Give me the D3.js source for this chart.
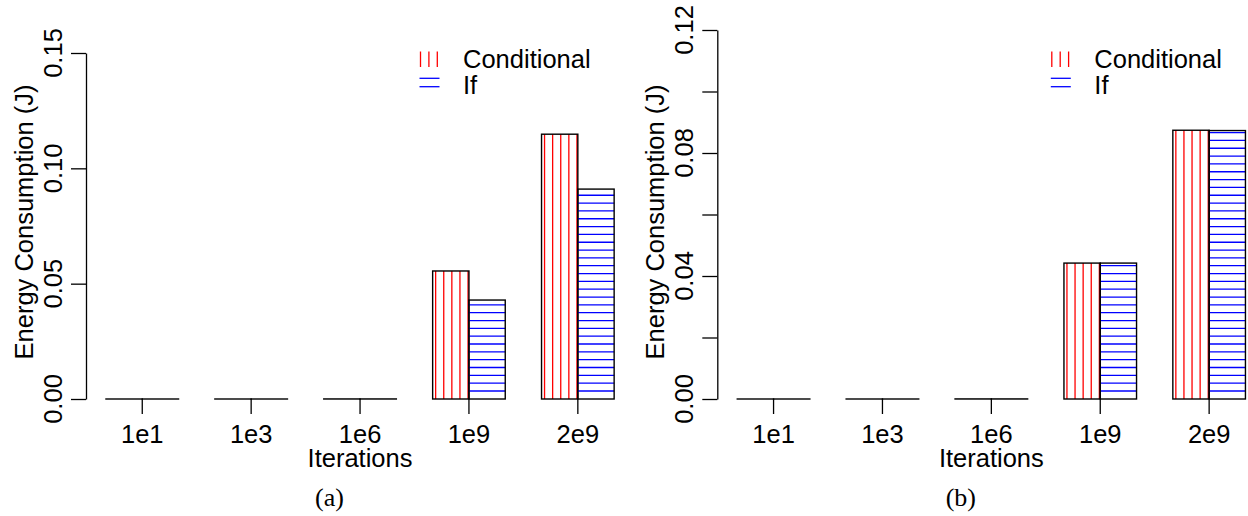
<!DOCTYPE html>
<html>
<head>
<meta charset="utf-8">
<script src="https://cdn.jsdelivr.net/npm/d3@7"></script>
<style>
  html, body { margin: 0; padding: 0; background: #fff; }
  svg { display: block; }
  text { font-family: "Liberation Sans", Arial, Helvetica, sans-serif; fill: #000; }
</style>
</head>
<body>
<svg id="chart" width="1248" height="516"></svg>
<script>
// ---------------- data ----------------
const categories = ["1e1", "1e3", "1e6", "1e9", "2e9"];
const seriesNames = ["Conditional", "If"];

// panel (a)
const conditionalA = [0.0000001, 0.000001, 0.00003, 0.0555, 0.1148];
const ifA          = [0.0000001, 0.000001, 0.00003, 0.0429, 0.0910];
const ticksA  = [0, 0.05, 0.10, 0.15];
const labelsA = ["0.00", "0.05", "0.10", "0.15"];

// panel (b)
const conditionalB = [0.0000001, 0.000001, 0.00003, 0.0442, 0.0874];
const ifB          = [0.0000001, 0.000001, 0.00003, 0.0442, 0.0873];
const ticksB  = [0, 0.02, 0.04, 0.06, 0.08, 0.10, 0.12];
const labelsB = ["0.00", "", "0.04", "", "0.08", "", "0.12"];

const xTitle = "Iterations";
const yTitle = "Energy Consumption (J)";

// ---------------- layout ----------------
const svg = d3.select("#chart");
const colors = { Conditional: "#ff0000", If: "#0000ff" };
const FS = 25.5;

const panels = [
  { ox: 0,     cond: conditionalA, iff: ifA, yMax: 0.15, yTop: 53, ticks: ticksA, labels: labelsA, caption: "(a)" },
  { ox: 631.3, cond: conditionalB, iff: ifB, yMax: 0.12, yTop: 30, ticks: ticksB, labels: labelsB, caption: "(b)" }
];

const axisX0 = 86;      // y-axis position in panel (a)
const plotW = 548.1;
const baseY = 399;

panels.forEach(p => {
  const g = svg.append("g").attr("transform", `translate(${p.ox},0)`);
  const left = axisX0, right = axisX0 + plotW;

  const x = d3.scaleBand().domain(categories).range([left, right])
    .paddingInner(1 / 3).paddingOuter(0.1833);
  const xs = d3.scaleBand().domain(seriesNames).range([0, x.bandwidth()]);
  const y = d3.scaleLinear().domain([0, p.yMax]).range([baseY, p.yTop]);

  const rows = categories.map((c, i) => ({ cat: c, vals: [
    { s: "Conditional", v: p.cond[i] }, { s: "If", v: p.iff[i] } ] }));

  const groups = g.selectAll("g.grp").data(rows).join("g")
    .attr("class", "grp")
    .attr("transform", d => `translate(${x(d.cat)},0)`);

  groups.each(function(d) {
    const gg = d3.select(this);
    d.vals.forEach(b => {
      const bx = xs(b.s), bw = xs.bandwidth();
      const top = y(b.v), bot = y(0);
      const h = bot - top;
      if (h > 2) {
        if (b.s === "Conditional") {
          const xsPos = d3.range(bx + 3, bx + bw - 0.3, 8.1);
          gg.selectAll(null).data(xsPos).join("line")
            .attr("x1", v => v).attr("x2", v => v)
            .attr("y1", top).attr("y2", bot)
            .attr("stroke", colors.Conditional).attr("stroke-width", 1.3);
        } else {
          const ysPos = d3.range(bot - 8, top + 1, -7.83);
          gg.selectAll(null).data(ysPos).join("line")
            .attr("x1", bx).attr("x2", bx + bw)
            .attr("y1", v => v).attr("y2", v => v)
            .attr("stroke", colors.If).attr("stroke-width", 1.3);
        }
      }
      gg.append("rect")
        .attr("x", bx).attr("y", top)
        .attr("width", bw).attr("height", Math.max(0, h))
        .attr("fill", "none").attr("stroke", "#000").attr("stroke-width", 1.4);
    });
  });

  // y axis
  const yAxis = d3.axisLeft(y).tickValues(p.ticks).tickSize(15).tickSizeOuter(0).tickFormat("");
  const ya = g.append("g").attr("transform", `translate(${left},0)`).call(yAxis);
  ya.selectAll("path, line").attr("stroke", "#000").attr("stroke-width", 1.3);
  g.selectAll("text.ytl").data(p.ticks).join("text")
    .attr("class", "ytl")
    .attr("transform", t => `translate(${left - 24},${y(t)}) rotate(-90)`)
    .attr("text-anchor", "middle")
    .attr("font-size", FS)
    .text((t, i) => p.labels[i]);

  // x axis
  const xAxis = d3.axisBottom(x).tickSize(15).tickSizeOuter(0);
  const xa = g.append("g").attr("transform", `translate(0,${baseY})`).call(xAxis);
  xa.select(".domain").remove();
  xa.selectAll("line").attr("stroke", "#000").attr("stroke-width", 1.3);
  xa.selectAll("text")
    .attr("y", 43.5).attr("dy", 0)
    .attr("font-size", FS)
    .attr("font-family", "Liberation Sans, Arial, sans-serif")
    .attr("fill", "#000");

  // axis titles
  g.append("text")
    .attr("x", (left + right) / 2).attr("y", 467)
    .attr("text-anchor", "middle").attr("font-size", FS)
    .text(xTitle);
  g.append("text")
    .attr("transform", `translate(${left - 53},222) rotate(-90)`)
    .attr("text-anchor", "middle").attr("font-size", FS)
    .text(yTitle);

  // caption
  g.append("text")
    .attr("x", 329.5).attr("y", 506)
    .attr("text-anchor", "middle").attr("font-size", 26)
    .style("font-family", "'Liberation Serif', 'Times New Roman', serif")
    .text(p.caption);

  // legend
  const lg = g.append("g");
  const lx = 419.5, lw = 20;
  lg.selectAll(null).data(d3.range(lx + 1, lx + lw, 8.4)).join("line")
    .attr("x1", v => v).attr("x2", v => v).attr("y1", 51.5).attr("y2", 67)
    .attr("stroke", colors.Conditional).attr("stroke-width", 1.3);
  lg.selectAll(null).data(d3.range(86.7, 72, -8.4)).join("line")
    .attr("x1", lx).attr("x2", lx + lw).attr("y1", v => v).attr("y2", v => v)
    .attr("stroke", colors.If).attr("stroke-width", 1.3);
  lg.selectAll("text").data(seriesNames).join("text")
    .attr("x", 463).attr("y", (d, i) => 67.5 + i * 26)
    .attr("font-size", FS)
    .text(d => d);
});
</script>
</body>
</html>
